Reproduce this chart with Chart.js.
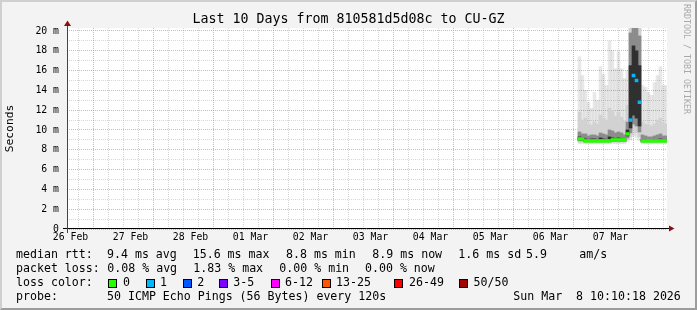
<!DOCTYPE html>
<html><head><meta charset="utf-8">
<script src="https://cdn.jsdelivr.net/npm/chart.js@4/dist/chart.umd.min.js"></script>
<style>
html,body{margin:0;padding:0;background:#f3f3f3;overflow:hidden;width:697px;height:310px}
#wrap{position:relative;width:697px;height:310px}
#c{position:absolute;left:0;top:0}
.t{position:absolute;font-family:'DejaVu Sans Mono',monospace;white-space:pre;color:#000;line-height:14px;font-size:11.6px}
.title{font-size:13.3px;line-height:16px;left:0;width:697px;text-align:center;top:11px}
.box{position:absolute;width:9px;height:9px;box-sizing:border-box;border:1px solid #000}
.rrd{position:absolute;left:682px;top:4px;writing-mode:vertical-rl;font-family:'DejaVu Sans Mono',monospace;font-size:8.3px;color:#a9a9a9;white-space:pre}
#frame{position:absolute;left:0;top:0;width:697px;height:310px;box-sizing:border-box;border-top:2px solid #cfcfcf;border-left:2px solid #cfcfcf;border-right:2px solid #9c9c9c;border-bottom:2px solid #9c9c9c;pointer-events:none}
</style></head>
<body><div id="wrap"><canvas id="c" width="697" height="310"></canvas></div>
<script>
// ---- data (hours since 26 Feb 00:00 ; values in ms) ----
const dayLabels = ['26 Feb','27 Feb','28 Feb','01 Mar','02 Mar','03 Mar','04 Mar','05 Mar','06 Mar','07 Mar'];
const yTicks = [0,1,2,3,4,5,6,7,8,9,10,11,12,13,14,15,16,17,18,19,20];
const times = [215.6,216.8,218.0,219.2,220.4,221.6,222.8,224.0,225.2,226.4,227.6,228.8,230.0,231.2,232.4,233.6,234.8,236.0,237.2,238.4,239.6,240.8,242.0,243.2,244.4,245.6,246.8,248.0,249.2,250.4];
const pingMax = [17.4,15.5,14.0,12.8,12.2,13.8,13.0,16.4,15.6,14.5,19.0,18.0,16.2,17.9,16.2,15.2,16.0,21.0,22.0,22.0,21.5,14.5,14.3,13.8,13.5,14.8,15.5,16.4,14.5,14.5];
const ping90 = [11.8,11.0,11.2,10.6,10.5,10.8,10.6,11.5,11.2,11.0,12.2,12.0,11.4,11.8,11.3,10.9,12.5,20.5,21.0,21.0,20.5,10.8,10.6,10.5,10.4,10.6,11.0,11.2,10.7,10.6];
const ping75 = [9.8,9.6,9.6,9.4,9.5,9.5,9.4,9.7,9.6,9.5,10.0,9.9,9.7,9.8,9.7,9.5,10.8,19.8,21.0,20.5,19.5,9.5,9.4,9.3,9.3,9.4,9.5,9.6,9.4,9.4];
const ping60 = [9.3,9.25,9.1,9.05,9.1,9.1,9.05,9.2,9.1,9.05,9.3,9.2,9.15,9.2,9.15,9.1,10.0,16.5,18.5,18.0,16.5,9.05,9.05,9.0,9.0,9.05,9.05,9.1,9.05,9.05];
const median = [9.1,9.1,8.9,8.9,8.9,8.9,8.9,8.9,8.9,8.9,8.9,9.0,9.0,9.0,9.0,9.0,9.6,11.0,15.5,15.0,12.8,8.9,8.9,8.9,8.9,8.9,8.9,8.9,8.9,8.9];
const ping40 = [9.0,9.0,8.85,8.85,8.85,8.85,8.85,8.85,8.85,8.85,8.85,8.95,8.95,8.95,8.95,8.95,9.4,10.2,11.5,11.2,10.4,8.85,8.85,8.85,8.85,8.85,8.85,8.85,8.85,8.85];
const ping25 = [8.9,8.9,8.8,8.8,8.8,8.8,8.8,8.8,8.8,8.8,8.8,8.85,8.85,8.85,8.85,8.85,9.2,9.7,10.6,10.4,9.8,8.8,8.8,8.8,8.8,8.8,8.8,8.8,8.8,8.8];
const ping10 = [8.75,8.75,8.7,8.7,8.7,8.7,8.7,8.7,8.7,8.7,8.7,8.75,8.75,8.75,8.75,8.75,9.0,9.3,9.9,9.7,9.3,8.7,8.7,8.7,8.7,8.7,8.7,8.7,8.7,8.7];
const pingMin = [8.6,8.6,8.6,8.6,8.6,8.6,8.6,8.6,8.6,8.6,8.6,8.6,8.6,8.6,8.6,8.6,8.8,9.0,9.4,9.2,8.9,8.6,8.6,8.6,8.6,8.6,8.6,8.6,8.6,8.6];
const lossCount = [0,0,0,0,0,0,0,0,0,0,0,0,0,0,0,0,0,1,1,1,1,0,0,0,0,0,0,0,0,0];
const lossLabels = ['0','1','2','3-5','6-12','13-25','26-49','50/50'];
const rttStats = ['median rtt:','9.4 ms avg','15.6 ms max','8.8 ms min','8.9 ms now','1.6 ms sd','5.9','am/s'];
const lossStats = ['packet loss:','0.08 % avg','1.83 % max','0.00 % min','0.00 % now'];
const probeText = ['probe:','50 ICMP Echo Pings (56 Bytes) every 120s','Sun Mar  8 10:10:18 2026'];
const titleText = 'Last 10 Days from 810581d5d08c to CU-GZ';

// ---- styles / layout ----
const lossColors = ['#26ff00','#00b8ff','#0059ff','#7e00ff','#ff00ff','#ff5500','#ff0000','#a10000'];
const lossBucket = n => n===0?0:n===1?1:n===2?2:n<=5?3:n<=12?4:n<=25?5:n<50?6:7;
const X_MIN = 10.6, X_MAX = 250.6, Y_MAX = 20.3;
const rttX = [16,107,192.7,286,372.3,458.3,526,579.3];
const lossX = [16,107.3,193.3,279.3,365];
const boxX = [108.3,145.7,182.7,219.3,271,322,394,459];
const boxTextX = [123,160,197.3,233.3,285,336,409,473.5];
const probeX = [16,107,513.3];

const wrap = document.getElementById('wrap');
function addText(txt, x, y, cls){ const d=document.createElement('div'); d.className='t'+(cls?' '+cls:''); d.textContent=txt; if(x!==null) d.style.left=x+'px'; d.style.top=y+'px'; wrap.appendChild(d); return d; }
addText(titleText, null, 11, 'title');
rttStats.forEach((s,i)=>addText(s, rttX[i], 247.3));
lossStats.forEach((s,i)=>addText(s, lossX[i], 261.3));
addText('loss color:', 16, 275);
lossLabels.forEach((s,i)=>{ const b=document.createElement('div'); b.className='box'; b.style.left=boxX[i]+'px'; b.style.top='279px'; b.style.background=lossColors[i]; wrap.appendChild(b); addText(s, boxTextX[i], 275); });
probeText.forEach((s,i)=>addText(s, probeX[i], 288.7));
const rrd=document.createElement('div'); rrd.className='rrd'; rrd.textContent='RRDTOOL / TOBI OETIKER'; wrap.appendChild(rrd);
const fr=document.createElement('div'); fr.id='frame'; wrap.appendChild(fr);

const band = (lo, hi) => times.map((t,i)=>({x:t, y:[lo[i], hi[i]]}));
const medBand = times.map((t,i)=>({x:t, y:[median[i]-0.14, median[i]+0.14]}));

const RED = 'rgba(255,90,90,0.55)', GREY = 'rgba(150,150,150,0.38)';
const FONT = "'DejaVu Sans Mono', monospace";

const decor = {
  id:'decor',
  beforeDraw(chart){ const a=chart.chartArea, c=chart.ctx; c.save(); c.fillStyle='#ffffff'; c.fillRect(a.left,a.top,a.right-a.left,a.bottom-a.top); c.restore(); },
  afterDraw(chart){
    const a=chart.chartArea, c=chart.ctx; c.save();
    c.strokeStyle='#000'; c.lineWidth=1;
    c.beginPath(); c.moveTo(a.left-4, a.bottom-0.5); c.lineTo(a.right+3, a.bottom-0.5); c.stroke();
    c.strokeStyle='#444';
    c.beginPath(); c.moveTo(a.left+0.5, a.bottom+4); c.lineTo(a.left+0.5, a.top-2); c.stroke();
    c.fillStyle='#8a1010';
    c.beginPath(); c.moveTo(a.left-3, a.top-2); c.lineTo(a.left+4, a.top-2); c.lineTo(a.left+0.5, a.top-7.5); c.closePath(); c.fill();
    c.beginPath(); c.moveTo(a.right+2, a.bottom-3.5); c.lineTo(a.right+2, a.bottom+2.5); c.lineTo(a.right+7.5, a.bottom-0.5); c.closePath(); c.fill();
    c.restore();
  }
};

const barCommon = {type:'bar', grouped:false, barPercentage:1, categoryPercentage:1, borderWidth:0};
new Chart(document.getElementById('c'), {
  data:{ datasets:[
    Object.assign({label:'median', data:medBand, backgroundColor: times.map((t,i)=>lossColors[lossBucket(lossCount[i])]), order:0}, barCommon),
    Object.assign({label:'p40-60', data:band(ping40,ping60), backgroundColor:'#303030', order:1}, barCommon),
    Object.assign({label:'p25-75', data:band(ping25,ping75), backgroundColor:'#8c8c8c', order:2}, barCommon),
    Object.assign({label:'p10-90', data:band(ping10,ping90), backgroundColor:'#d2d2d2', order:3}, barCommon),
    Object.assign({label:'min-max', data:band(pingMin,pingMax), backgroundColor:'rgba(0,0,0,0.09)', order:4}, barCommon)
  ]},
  options:{
    responsive:false, animation:false, devicePixelRatio:1,
    layout:{padding:{top:28,right:30,left:0,bottom:0}},
    plugins:{legend:{display:false}, tooltip:{enabled:false}, title:{display:false}},
    scales:{
      x:{ type:'linear', min:X_MIN, max:X_MAX, offset:false,
        afterBuildTicks(s){ const out=[]; for(let d=0; d<=10; d++){ for(const h of [0,6,12,18]){ const v=d*24+h; if(v>X_MIN && v<X_MAX) out.push({value:v}); } } s.ticks=out; },
        afterFit(s){ s.height = 81; },
        grid:{ drawTicks:false, lineWidth:1, color: ctx => (ctx.tick && ctx.tick.value%24===0) ? RED : GREY },
        border:{ display:false, dash:[1,1] },
        ticks:{ autoSkip:false, maxRotation:0, padding:3, color:'#000', font:{family:FONT, size:9.8},
          callback:(v)=> (v%24===12) ? dayLabels[(v-12)/24] : '' }
      },
      y:{ type:'linear', min:0, max:Y_MAX,
        afterBuildTicks(s){ s.ticks = yTicks.map(v=>({value:v})); },
        afterFit(s){ s.width = 67; },
        grid:{ drawTicks:false, lineWidth:1, color: ctx => (ctx.tick && ctx.tick.value%2===0) ? RED : GREY },
        border:{ display:false, dash:[1,1] },
        title:{ display:true, text:'Seconds', color:'#000', font:{family:FONT, size:11.3}, padding:{top:3,bottom:0} },
        ticks:{ autoSkip:false, padding:8, color:'#000', font:{family:FONT, size:9.8},
          callback:(v)=> v%2===0 ? (v===0 ? '0' : v+' m') : '' }
      }
    }
  },
  plugins:[decor]
});
</script></body></html>
